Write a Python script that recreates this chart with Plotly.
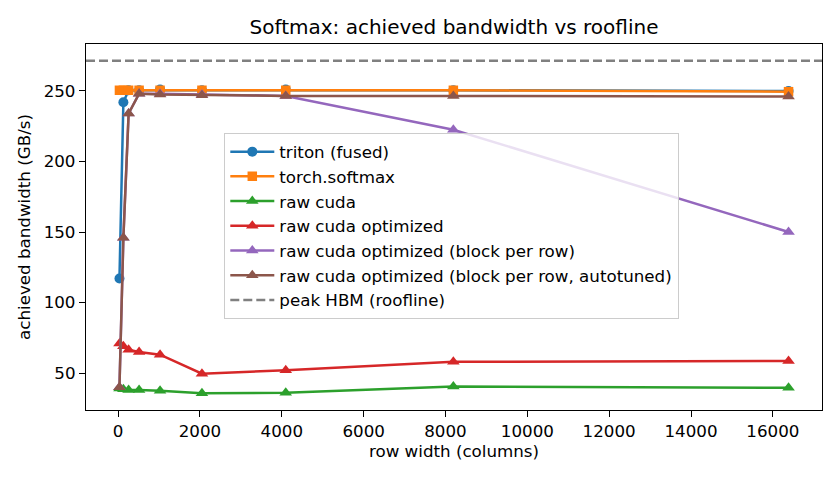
import plotly.graph_objects as go

# ---- data ----
row_width = [32, 128, 256, 512, 1024, 2048, 4096, 8192, 16384]
triton_fused = [117, 242, 250.5, 250.5, 251, 250.5, 251, 250.5, 250]
torch_softmax = [250.5, 250.5, 250.5, 250.5, 250.5, 250.5, 250.5, 250.5, 249.5]
raw_cuda = [39, 38.5, 38, 38, 37.5, 35.6, 36, 40.5, 39.5]
raw_cuda_opt = [71, 69, 66.5, 65, 63, 49.5, 52, 58, 58.5]
raw_cuda_block = [40, 146, 234, 248, 248, 247.5, 246.5, 222.5, 150]
raw_cuda_block_auto = [40, 146, 234, 248, 247.5, 247, 246.5, 246.5, 246]
peak_hbm = 271.5

series_names = [
    "triton (fused)",
    "torch.softmax",
    "raw cuda",
    "raw cuda optimized",
    "raw cuda optimized (block per row)",
    "raw cuda optimized (block per row, autotuned)",
]
series_values = [triton_fused, torch_softmax, raw_cuda, raw_cuda_opt,
                 raw_cuda_block, raw_cuda_block_auto]
colors = ["#1f77b4", "#ff7f0e", "#2ca02c", "#d62728", "#9467bd", "#8c564b"]
symbols = ["circle", "square", "triangle-up", "triangle-up", "triangle-up", "triangle-up"]
msizes = [10, 9.5, 11, 11, 11, 11]

x_ticks = [0, 2000, 4000, 6000, 8000, 10000, 12000, 14000, 16000]
y_ticks = [50, 100, 150, 200, 250]

# axis ranges with matplotlib-like 5% margins
xmin, xmax = min(row_width), max(row_width)
xpad = 0.05 * (xmax - xmin)
x_range = [xmin - xpad, xmax + xpad]
all_y = [v for s in series_values for v in s] + [peak_hbm]
ymin, ymax = min(all_y), max(all_y)
ypad = 0.05 * (ymax - ymin)
y_range = [ymin - ypad, ymax + ypad]

FONT = "DejaVu Sans"
FS = 16.7
fig = go.Figure()
for i, (name, vals) in enumerate(zip(series_names, series_values)):
    fig.add_trace(go.Scatter(
        x=row_width, y=vals, name=name, mode="lines+markers",
        line=dict(color=colors[i], width=2.5),
        marker=dict(symbol=symbols[i], size=msizes[i], color=colors[i], line=dict(width=0)),
    ))

fig.add_trace(go.Scatter(
    x=x_range, y=[peak_hbm, peak_hbm], name="peak HBM (roofline)", mode="lines",
    line=dict(color="#808080", width=2.5, dash="9px,4px"),
))

fig.update_layout(
    width=840, height=480,
    margin=dict(l=86, r=18, t=44, b=70),
    paper_bgcolor="white", plot_bgcolor="white",
    font=dict(family=FONT, size=FS, color="black"),
    title=dict(text="Softmax: achieved bandwidth vs roofline", x=0.5, xanchor="center",
               xref="paper",
               y=1 - 27 / 480, yanchor="middle", yref="container",
               font=dict(family=FONT, size=20, color="black")),
    legend=dict(
        x=(224 - 86) / 736, y=(410 - 133) / 366, xanchor="left", yanchor="top",
        bgcolor="rgba(255,255,255,0.8)", bordercolor="#cccccc", borderwidth=1.3,
        font=dict(family=FONT, size=FS, color="black"),
        itemwidth=44,
    ),
    showlegend=True,
)
fig.update_xaxes(
    range=x_range, tickvals=x_ticks, ticktext=[str(t) for t in x_ticks],
    showline=True, linecolor="black", linewidth=1.3, mirror=True,
    ticks="outside", ticklen=6, tickwidth=1.3, tickcolor="black",
    showgrid=False, zeroline=False,
    tickfont=dict(family=FONT, size=FS),
    title=dict(text="row width (columns)", font=dict(family=FONT, size=FS), standoff=5),
)
fig.update_yaxes(
    range=y_range, tickvals=y_ticks, ticktext=[str(t) for t in y_ticks],
    showline=True, linecolor="black", linewidth=1.3, mirror=True,
    ticks="outside", ticklen=6, tickwidth=1.3, tickcolor="black",
    showgrid=False, zeroline=False,
    tickfont=dict(family=FONT, size=FS),
    title=dict(text="achieved bandwidth (GB/s)", font=dict(family=FONT, size=FS), standoff=8),
)

fig.write_html("out.html")
